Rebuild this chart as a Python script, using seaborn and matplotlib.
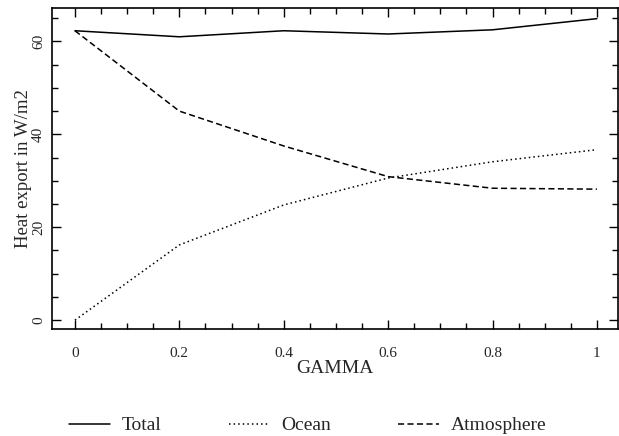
import matplotlib
matplotlib.use("Agg")
import matplotlib.pyplot as plt
import seaborn as sns
import pandas as pd
from matplotlib.ticker import MultipleLocator

# Heat export partition as a function of GAMMA
gamma = [0.0, 0.2, 0.4, 0.6, 0.8, 1.0]
total = [62.3, 61.0, 62.3, 61.6, 62.5, 64.9]
ocean = [0.0, 16.2, 24.8, 30.6, 34.1, 36.7]
atmosphere = [62.3, 45.0, 37.5, 30.9, 28.4, 28.2]
series_names = ["Total", "Ocean", "Atmosphere"]

df = pd.DataFrame({
    "GAMMA": gamma * 3,
    "value": total + ocean + atmosphere,
    "component": [n for n in series_names for _ in gamma],
})

sns.set_style("ticks")
plt.rcParams["font.family"] = ["Liberation Serif", "DejaVu Serif"]
plt.rcParams["axes.linewidth"] = 1.2

fig = plt.figure(figsize=(6.19, 4.36), dpi=100)
ax = fig.add_axes([0.084, 0.2454, 0.914, 0.7363])

sns.lineplot(
    data=df, x="GAMMA", y="value", style="component",
    style_order=series_names,
    dashes={"Total": "", "Ocean": (1, 2), "Atmosphere": (4, 2.2)},
    color="black", linewidth=1.1, ax=ax, legend=True,
)

ax.set_xlim(-0.044, 1.04)
ax.set_ylim(-1.9, 67.2)
ax.xaxis.set_major_locator(MultipleLocator(0.2))
ax.xaxis.set_minor_locator(MultipleLocator(0.05))
ax.yaxis.set_major_locator(MultipleLocator(20))
ax.yaxis.set_minor_locator(MultipleLocator(5))
ax.set_xticks([0, 0.2, 0.4, 0.6, 0.8, 1.0])
ax.set_xticklabels(["0", "0.2", "0.4", "0.6", "0.8", "1"])
ax.set_yticks([0, 20, 40, 60])
ax.set_yticklabels(["0", "20", "40", "60"], rotation=90, va="center")

ax.tick_params(which="both", direction="in", top=True, right=True,
               color="black", width=1.0, labelsize=11)
ax.tick_params(which="major", length=6.5)
ax.tick_params(axis="x", which="major", pad=13)
ax.tick_params(axis="y", which="major", pad=5)
ax.tick_params(which="minor", length=4)
for s in ax.spines.values():
    s.set_color("black")

ax.set_xlabel("GAMMA", fontsize=14, labelpad=0)
ax.set_ylabel("Heat export in W/m2", fontsize=13.5, labelpad=0)

handles, labels = ax.get_legend_handles_labels()
ax.get_legend().remove()
fig.legend(handles, labels, loc="center", bbox_to_anchor=(0.497, 0.024),
           ncol=3, frameon=False, fontsize=14, handlelength=2.1,
           handletextpad=0.6, columnspacing=3.45)

fig.savefig("out.png", dpi=100)
